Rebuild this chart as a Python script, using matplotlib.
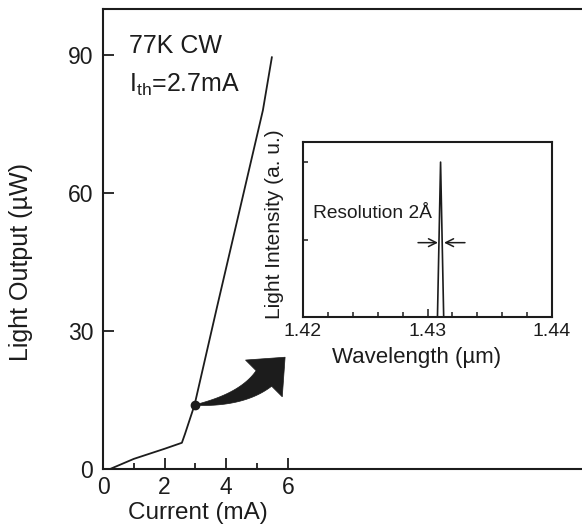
import numpy as np
import matplotlib
matplotlib.use("Agg")
import matplotlib.pyplot as plt
from matplotlib.patches import Polygon
from matplotlib.ticker import FixedLocator, NullFormatter

plt.rcParams['font.family'] = ['Liberation Sans', 'DejaVu Sans']
plt.rcParams['mathtext.fontset'] = 'custom'
plt.rcParams['mathtext.rm'] = 'Liberation Sans'
plt.rcParams['mathtext.it'] = 'Liberation Sans'

ink = '#1c1c1c'

# L-I curve, 77K CW
current = [0.23, 1.0, 2.0, 2.56, 2.66, 2.97, 3.70, 4.55, 5.19, 5.48]
output = [0.0, 2.2, 4.4, 5.7, 7.6, 13.9, 35.2, 59.6, 78.0, 89.5]
spot_i = 2.97
spot_p = 13.9
arrow_tip = (5.91, 24.3)

# lasing spectrum (inset)
wavelength = [1.420, 1.4308, 1.43105, 1.4313, 1.440]
intensity = [0.0, 0.0, 1.0, 0.0, 0.0]

main_xticks = [0, 2, 4, 6]
main_xminor = [1, 3, 5]
main_yticks = [0, 30, 60, 90]
inset_xticks = [1.42, 1.43, 1.44]
inset_xminor = [1.422, 1.424, 1.426, 1.428, 1.432, 1.434, 1.436, 1.438]
inset_yticks = [0.5, 1.0]

W, H = 582, 531
fig = plt.figure(figsize=(W / 100, H / 100), dpi=100)

def box(l, t, r, b):
    return [l / W, 1 - b / H, (r - l) / W, (b - t) / H]

# curved, tapering block arrow from the marked point toward the inset
def block_arrow(ax, start, tip, head_len=30, head_half=26, tail_w=22):
    tr = ax.transData
    S = tr.transform(start)
    T = tr.transform(tip)
    d = np.array([1.0, 1.0]) / np.sqrt(2)
    M = T - head_len * d
    e = np.array([1.0, 0.1])
    # control point: where the start tangent meets the head axis
    A = np.column_stack([e, d])
    s, t = np.linalg.solve(A, M - S)
    C = S + s * e
    u = np.linspace(0, 1, 40)[:, None]
    B = (1 - u) ** 2 * S + 2 * u * (1 - u) * C + u ** 2 * M
    dB = 2 * (1 - u) * (C - S) + 2 * u * (M - C)
    n = np.column_stack([-dB[:, 1], dB[:, 0]])
    n /= np.linalg.norm(n, axis=1)[:, None]
    w = tail_w * u ** 0.85 / 2
    upper = B + n * w
    lower = B - n * w
    ne = n[-1]
    head = np.array([M + ne * head_half, T, M - ne * head_half])
    pts = np.vstack([upper, head, lower[::-1]])
    pts = tr.inverted().transform(pts)
    ax.add_patch(Polygon(pts, closed=True, facecolor=ink, edgecolor=ink,
                         lw=0.5, zorder=3))

# main axes (right side runs past the figure edge)
ax = fig.add_axes(box(103, 9, 596, 469))
ax.plot(current, output, color=ink, lw=1.3)
ax.plot([spot_i], [spot_p], 'o', color=ink, ms=6, zorder=4)
ax.set_xlim(0, 16)
ax.set_ylim(0, 100)
ax.xaxis.set_major_locator(FixedLocator(main_xticks))
ax.xaxis.set_minor_locator(FixedLocator(main_xminor))
ax.yaxis.set_major_locator(FixedLocator(main_yticks))
ax.tick_params(which='both', direction='in', color=ink, width=1.3,
               labelsize=16.5, labelcolor=ink)
ax.tick_params(axis='x', which='major', length=8, pad=5)
ax.tick_params(axis='x', which='minor', length=4)
ax.tick_params(axis='y', which='major', length=8, pad=7)
for s in ax.spines.values():
    s.set_linewidth(1.5)
    s.set_color(ink)
ax.set_xlabel('Current (mA)', fontsize=17.5, color=ink, va='center')
ax.xaxis.set_label_coords((198 - 103) / 493, (469 - 513) / 460)
ax.set_ylabel('Light Output (µW)', fontsize=18, color=ink, va='center')
ax.yaxis.set_label_coords((21 - 103) / 493, (469 - 262) / 460)

ax.text(0.86, 90.4, '77K CW', fontsize=18, color=ink, va='baseline')
ax.text(0.86, 82.0, r'I$_{\rm th}$=2.7mA', fontsize=18, color=ink, va='baseline')

block_arrow(ax, (spot_i, spot_p), arrow_tip)

# inset spectrum
ins = fig.add_axes(box(303, 142, 552, 317))
ins.plot(wavelength, intensity, color=ink, lw=1.2)
ins.set_xlim(1.42, 1.44)
ins.set_ylim(0, 1.13)
ins.xaxis.set_major_locator(FixedLocator(inset_xticks))
ins.xaxis.set_minor_locator(FixedLocator(inset_xminor))
ins.yaxis.set_major_locator(FixedLocator(inset_yticks))
ins.yaxis.set_major_formatter(NullFormatter())
ins.tick_params(which='both', direction='in', color=ink, width=1.1,
                labelsize=14, labelcolor=ink)
ins.tick_params(axis='x', which='major', length=6, pad=4)
ins.tick_params(axis='x', which='minor', length=3.5)
ins.tick_params(axis='y', length=3.5)
for s in ins.spines.values():
    s.set_linewidth(1.5)
    s.set_color(ink)
ins.set_xlabel('Wavelength (µm)', fontsize=16, color=ink, va='center')
ins.xaxis.set_label_coords((417 - 303) / 249, (317 - 358) / 175)
ins.set_ylabel('Light Intensity (a. u.)', fontsize=15, color=ink, va='center')
ins.yaxis.set_label_coords((275 - 303) / 249, (317 - 224) / 175)

ins.text(1.4208, 0.67, 'Resolution 2Å', fontsize=13.8, color=ink, va='center')
ins.annotate('', xy=(1.43084, 0.48), xytext=(1.42924, 0.48),
             arrowprops=dict(arrowstyle='->', color=ink, lw=1.1,
                             shrinkA=0, shrinkB=0, mutation_scale=14))
ins.annotate('', xy=(1.43133, 0.48), xytext=(1.43301, 0.48),
             arrowprops=dict(arrowstyle='->', color=ink, lw=1.1,
                             shrinkA=0, shrinkB=0, mutation_scale=14))

fig.savefig('out.png', dpi=100)
